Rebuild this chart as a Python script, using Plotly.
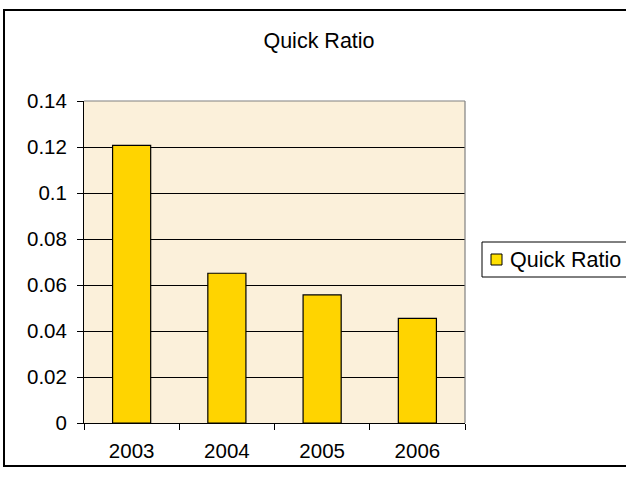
import plotly.graph_objects as go

years = ["2003", "2004", "2005", "2006"]
quick_ratio = [0.1207, 0.0651, 0.0557, 0.0455]
series_name = "Quick Ratio"
y_ticks = [0, 0.02, 0.04, 0.06, 0.08, 0.1, 0.12, 0.14]
y_tick_text = ["0", "0.02", "0.04", "0.06", "0.08", "0.1", "0.12", "0.14"]

W, H = 626, 480
L, R, T, B = 84, 465, 101, 423
FAM = "Liberation Sans, Arial, sans-serif"
tick_font = dict(family=FAM, size=20.5, color="black")
big_font = dict(family=FAM, size=21.5, color="black")
BAR_COLOR = "#FFD400"

def px_x(p):
    return (p - L) / (R - L)

def px_y(p):
    return (B - p) / (B - T)

fig = go.Figure()
fig.add_trace(go.Bar(
    x=years, y=quick_ratio, name=series_name,
    marker=dict(color=BAR_COLOR, line=dict(color="black", width=1.2)),
    showlegend=False,
))

fig.update_layout(
    width=W, height=H,
    margin=dict(l=L, r=W - R, t=T, b=H - B),
    paper_bgcolor="white",
    plot_bgcolor="#FBF0DA",
    font=tick_font,
    title=dict(text="Quick Ratio", x=319 / W, xanchor="center", y=1 - 40 / H,
               yanchor="middle", font=big_font),
    bargap=0.6,
    showlegend=False,
    xaxis=dict(showline=True, linecolor="black", linewidth=1,
               ticks="outside", tickson="boundaries", ticklen=6, tickcolor="black",
               ticklabelstandoff=9,
               showgrid=False, tickfont=tick_font),
    yaxis=dict(range=[0, 0.14], tickvals=y_ticks, ticktext=y_tick_text,
               showline=True, linecolor="black", linewidth=1,
               ticks="outside", ticklen=6, tickcolor="black",
               ticklabelstandoff=6,
               showgrid=True, gridcolor="black", gridwidth=1,
               zeroline=False, tickfont=tick_font),
    shapes=[
        # top and right plot-area border in grey
        dict(type="line", xref="paper", yref="paper", x0=0, x1=1, y0=1, y1=1,
             line=dict(color="#808080", width=1.2), layer="above"),
        dict(type="line", xref="paper", yref="paper", x0=1, x1=1, y0=0, y1=1,
             line=dict(color="#808080", width=1.2), layer="above"),
        # outer chart border
        dict(type="rect", xref="paper", yref="paper",
             x0=px_x(4), x1=px_x(640), y0=px_y(466), y1=px_y(10),
             line=dict(color="black", width=2), fillcolor="rgba(0,0,0,0)",
             layer="above"),
        # legend box
        dict(type="rect", xref="paper", yref="paper",
             x0=px_x(482), x1=px_x(640), y0=px_y(277), y1=px_y(242),
             line=dict(color="black", width=1), fillcolor="white",
             layer="above"),
        # legend swatch
        dict(type="rect", xref="paper", yref="paper",
             x0=px_x(491), x1=px_x(502), y0=px_y(265), y1=px_y(254),
             line=dict(color="black", width=1), fillcolor="#FFE000",
             layer="above"),
    ],
    annotations=[
        dict(text=series_name, xref="paper", yref="paper",
             x=px_x(508), y=px_y(259.5), xanchor="left", yanchor="middle",
             showarrow=False, font=big_font),
    ],
)

fig.write_html("out.html")
